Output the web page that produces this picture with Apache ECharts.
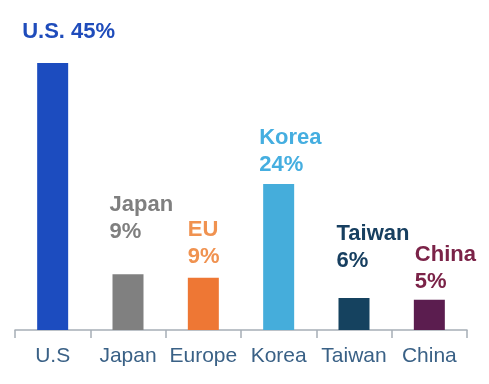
<!DOCTYPE html>
<html>
<head>
<meta charset="utf-8">
<script src="https://cdn.jsdelivr.net/npm/echarts@6/dist/echarts.min.js"></script>
<style>
html,body{margin:0;padding:0;background:#fff;}
#c{width:489px;height:384px;}
</style>
</head>
<body>
<div id="c"></div>
<script>
// Data
const categories = ['U.S', 'Japan', 'Europe', 'Korea', 'Taiwan', 'China'];
const shares = [45, 9.4, 8.8, 24.6, 5.4, 5.1];
const labelNames = ['U.S.', 'Japan', 'EU', 'Korea', 'Taiwan', 'China'];
const labelPercents = ['45%', '9%', '9%', '24%', '6%', '5%'];

// Styles (not data)
const barColors = ['#1c4cbf', '#808080', '#ee7734', '#45addb', '#15425f', '#5b1d4f'];
const labelColors = ['#1f4cbb', '#7f7f7f', '#f09250', '#45aee0', '#173f60', '#7b2348'];
const singleLine = [true, false, false, false, false, false];
// [x offset of label left from bar left, gap from bar top to label baseline]
const labelPos = [[-15, 25], [-3, 36], [0, 15], [-4, 13], [-2, 31], [1, 12]];

const barW = 31;
const data = shares.map((v, i) => ({
  value: v,
  itemStyle: { color: barColors[i] },
  label: {
    show: true,
    position: 'top',
    distance: 0,
    align: 'left',
    verticalAlign: 'bottom',
    color: labelColors[i],
    fontFamily: 'Liberation Sans, Arial, sans-serif',
    fontWeight: 'bold',
    fontSize: 22,
    lineHeight: 27,
    offset: [labelPos[i][0] - barW / 2, -(labelPos[i][1] - 7.5)],
    formatter: singleLine[i] ? (labelNames[i] + ' ' + labelPercents[i]) : (labelNames[i] + '\n' + labelPercents[i])
  }
}));

const chart = echarts.init(document.getElementById('c'), null, { renderer: 'canvas' });
chart.setOption({
  backgroundColor: '#ffffff',
  animation: false,
  grid: { left: 15, right: 22, top: 63, bottom: 54 },
  xAxis: {
    type: 'category',
    data: categories,
    axisLine: { lineStyle: { color: '#a7aeb6', width: 1.5 } },
    axisTick: { show: true, interval: 0, length: 8, lineStyle: { color: '#a7aeb6', width: 1.5 } },
    axisLabel: {
      interval: 0,
      margin: 16,
      color: '#3a6186',
      fontSize: 21,
      fontFamily: 'Liberation Sans, Arial, sans-serif'
    }
  },
  yAxis: {
    type: 'value',
    min: 0,
    max: 45,
    show: false,
    splitLine: { show: false }
  },
  series: [{
    type: 'bar',
    data: data,
    barWidth: barW
  }]
});
</script>
</body>
</html>
